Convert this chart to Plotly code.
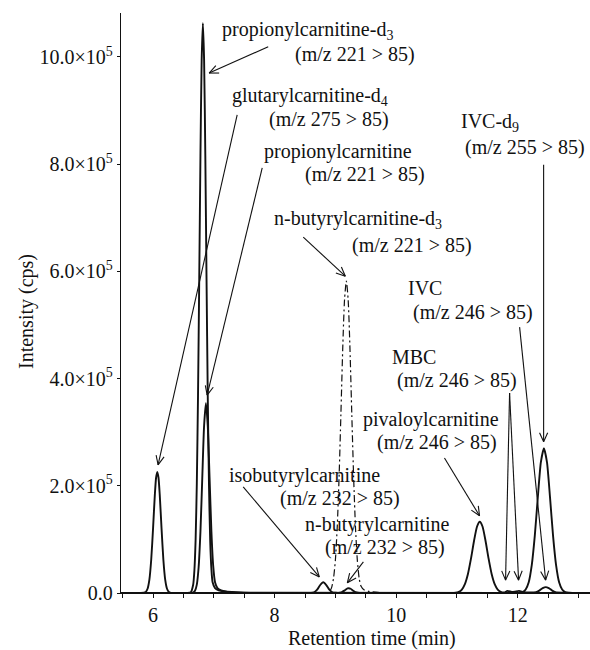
import math
import plotly.graph_objects as go

# ---------------------------------------------------------------------------
# MRM chromatogram traces: retention time (min) and intensity (10^5 cps)
# ---------------------------------------------------------------------------

# glutarylcarnitine-d4 (m/z 275 > 85)
glut_d4_t = [5.47, 5.80, 5.88, 5.91, 5.94, 5.97, 6.00, 6.03, 6.05, 6.07, 6.09, 6.11,
             6.14, 6.17, 6.20, 6.23, 6.26, 6.30, 13.20]
glut_d4_i = [0.0, 0.0, 0.02, 0.08, 0.25, 0.62, 1.20, 1.84, 2.15, 2.26, 2.15, 1.84,
             1.20, 0.62, 0.25, 0.08, 0.02, 0.0, 0.0]

# propionylcarnitine-d3 (m/z 221 > 85)
prop_d3_t = [5.47, 6.50, 6.62, 6.66, 6.68, 6.70, 6.72, 6.74, 6.76, 6.78, 6.80, 6.82,
             6.84, 6.86, 6.88, 6.90, 6.92, 6.94, 6.96, 6.98, 7.02, 7.08, 7.16, 7.30,
             7.60, 13.20]
prop_d3_i = [0.0, 0.0, 0.013, 0.155, 0.415, 0.98, 2.04, 3.69, 5.86, 8.16, 9.95, 10.63,
             9.95, 8.16, 5.86, 3.69, 2.04, 0.98, 0.45, 0.20, 0.09, 0.05, 0.03, 0.015,
             0.005, 0.0]

# propionylcarnitine
prop_t = [5.47, 6.60, 6.66, 6.69, 6.72, 6.75, 6.78, 6.81, 6.84, 6.87, 6.90, 6.93,
          6.96, 6.99, 7.02, 7.06, 7.12, 7.20, 7.35, 7.60, 13.20]
prop_i = [0.0, 0.0, 0.008, 0.04, 0.156, 0.48, 1.15, 2.15, 3.12, 3.54, 3.12, 2.15,
          1.15, 0.50, 0.20, 0.09, 0.05, 0.03, 0.015, 0.0, 0.0]

# isobutyrylcarnitine / n-butyrylcarnitine (m/z 232 > 85)
but_t = [5.47, 8.50, 8.60, 8.65, 8.70, 8.75, 8.80, 8.85, 8.90, 8.95, 9.00, 9.05,
         9.10, 9.15, 9.20, 9.22, 9.25, 9.30, 9.35, 9.40, 9.50, 13.20]
but_i = [0.0, 0.0, 0.002, 0.014, 0.061, 0.149, 0.20, 0.149, 0.061, 0.014, 0.004, 0.002,
         0.012, 0.046, 0.085, 0.09, 0.079, 0.037, 0.009, 0.002, 0.0, 0.0]

# n-butyrylcarnitine-d3 (dash-dot trace)
but_d3_t = [5.47, 8.80, 8.88, 8.91, 8.94, 8.97, 9.00, 9.03, 9.06, 9.09, 9.12, 9.15,
            9.18, 9.21, 9.24, 9.27, 9.30, 9.33, 9.36, 9.39, 9.42, 9.47, 9.55, 9.70,
            13.20]
but_d3_i = [0.0, 0.0, 0.011, 0.037, 0.11, 0.28, 0.62, 1.23, 2.15, 3.32, 4.54, 5.47,
            5.82, 5.47, 4.54, 3.32, 2.15, 1.23, 0.62, 0.28, 0.13, 0.06, 0.03, 0.01,
            0.0]

# pivaloylcarnitine / MBC / IVC (m/z 246 > 85)
c5_t = [5.47, 10.90, 10.98, 11.03, 11.08, 11.13, 11.18, 11.23, 11.28, 11.33, 11.375,
        11.42, 11.47, 11.52, 11.57, 11.62, 11.67, 11.72, 11.78, 11.83, 11.90, 11.95,
        12.02, 12.10, 12.20, 12.30, 12.36, 12.41, 12.46, 12.51, 12.56, 12.62, 12.75,
        13.20]
c5_i = [0.0, 0.0, 0.005, 0.021, 0.065, 0.166, 0.355, 0.64, 0.97, 1.24, 1.33,
        1.24, 0.97, 0.64, 0.355, 0.166, 0.065, 0.021, 0.01, 0.04, 0.02, 0.025,
        0.04, 0.015, 0.01, 0.015, 0.05, 0.09, 0.11, 0.09, 0.05, 0.015, 0.005,
        0.0]

# IVC-d9 (m/z 255 > 85)
ivc_d9_t = [5.47, 12.00, 12.03, 12.08, 12.13, 12.18, 12.23, 12.28, 12.33, 12.38, 12.43,
            12.48, 12.53, 12.58, 12.63, 12.68, 12.73, 12.78, 12.83, 13.20]
ivc_d9_i = [0.0, 0.0, 0.004, 0.017, 0.066, 0.20, 0.52, 1.07, 1.79, 2.44, 2.70,
            2.44, 1.79, 1.07, 0.52, 0.20, 0.066, 0.017, 0.004, 0.0]

# ---------------------------------------------------------------------------
# Peak labels (two lines each) and their pointer arrows
# ---------------------------------------------------------------------------
label_line1 = ["propionylcarnitine-d<sub>3</sub>", "glutarylcarnitine-d<sub>4</sub>",
               "propionylcarnitine", "n-butyrylcarnitine-d<sub>3</sub>",
               "IVC-d<sub>9</sub>", "IVC", "MBC", "pivaloylcarnitine",
               "isobutyrylcarnitine", "n-butyrylcarnitine"]
label_line2 = ["(m/z 221 > 85)", "(m/z 275 > 85)", "(m/z 221 > 85)", "(m/z 221 > 85)",
               "(m/z 255 > 85)", "(m/z 246 > 85)", "(m/z 246 > 85)", "(m/z 246 > 85)",
               "(m/z 232 > 85)", "(m/z 232 > 85)"]
label1_x = [7.104, 7.269, 7.796, 7.961, 11.041, 10.168, 9.905, 9.427, 7.219, 8.471]
label1_y = [10.50, 9.27, 8.23, 6.96, 8.77, 5.69, 4.40, 3.23, 2.20, 1.27]
label2_x = [8.307, 7.878, 8.471, 9.246, 11.107, 10.251, 9.987, 9.658, 8.059, 8.801]
label2_y = [10.04, 8.84, 7.80, 6.49, 8.32, 5.24, 3.97, 2.80, 1.77, 0.84]

arrow_x0 = [7.895, 7.384, 7.796, 8.471, 12.425, 12.030, 11.865, 11.865, 10.794, 7.483, 9.460]
arrow_y0 = [10.19, 8.92, 7.93, 6.64, 7.99, 4.96, 3.73, 3.73, 2.52, 1.98, 0.58]
arrow_x1 = [6.923, 6.083, 6.890, 9.163, 12.425, 12.458, 11.799, 12.013, 11.371, 8.735, 9.196]
arrow_y1 = [9.70, 2.39, 3.69, 5.91, 2.82, 0.24, 0.24, 0.24, 1.44, 0.30, 0.19]

# y-axis tick values (10^5 cps)
y_ticks = [0, 2, 4, 6, 8, 10]
y_ticktext = ["0.0"] + [f"{v:.1f}×10<sup>5</sup>" for v in y_ticks[1:]]
x_ticks = [6, 8, 10, 12]

# ---------------------------------------------------------------------------
W, H = 590, 650
M_L, M_R, M_T, M_B = 121, 0, 13, 57
X_RANGE = [5.473, 13.188]
Y_RANGE = [0, 10.82]
FONT = "Liberation Serif"
INK = "#111111"

fig = go.Figure()

solid = [(glut_d4_t, glut_d4_i), (prop_d3_t, prop_d3_i), (prop_t, prop_i),
         (but_t, but_i), (c5_t, c5_i), (ivc_d9_t, ivc_d9_i)]
for t, i in solid:
    fig.add_trace(go.Scatter(x=t, y=i, mode="lines",
                             line=dict(color=INK, width=1.9, shape="spline", smoothing=0.6),
                             hoverinfo="skip", showlegend=False))

fig.add_trace(go.Scatter(x=but_d3_t, y=but_d3_i, mode="lines",
                         line=dict(color=INK, width=1.2, dash="7px,3px,2px,3px",
                                   shape="spline", smoothing=0.6),
                         hoverinfo="skip", showlegend=False))

# arrows with open V heads, drawn in data space using the axis pixel scale
plot_w = W - M_L - M_R
plot_h = H - M_T - M_B
sx = plot_w / (X_RANGE[1] - X_RANGE[0])
sy = plot_h / (Y_RANGE[1] - Y_RANGE[0])
head_len, head_ang = 10.0, math.radians(24)
ax_pts, ay_pts = [], []
for x0, y0, x1, y1 in zip(arrow_x0, arrow_y0, arrow_x1, arrow_y1):
    dx, dy = (x0 - x1) * sx, (y0 - y1) * sy
    n = math.hypot(dx, dy)
    ux, uy = dx / n, dy / n
    ax_pts += [x0, x1, None]
    ay_pts += [y0, y1, None]
    for s in (1, -1):
        c, sn = math.cos(s * head_ang), math.sin(s * head_ang)
        bx, by = ux * c - uy * sn, ux * sn + uy * c
        ax_pts += [x1 + bx * head_len / sx, x1, None]
        ay_pts += [y1 + by * head_len / sy, y1, None]
fig.add_trace(go.Scatter(x=ax_pts, y=ay_pts, mode="lines",
                         line=dict(color=INK, width=1.1),
                         hoverinfo="skip", showlegend=False))

annotations = []
for t1, t2, x1, y1, x2, y2 in zip(label_line1, label_line2, label1_x, label1_y,
                                  label2_x, label2_y):
    for txt, xx, yy in ((t1, x1, y1), (t2, x2, y2)):
        annotations.append(dict(x=xx, y=yy, xref="x", yref="y", text=txt,
                                showarrow=False, xanchor="left", yanchor="middle",
                                font=dict(family=FONT, size=20, color=INK)))

annotations.append(dict(text="Intensity (cps)", xref="paper", yref="paper",
                        x=(27 - M_L) / plot_w, y=0.4845, textangle=-90,
                        showarrow=False, xanchor="center", yanchor="middle",
                        font=dict(family=FONT, size=20, color=INK)))
annotations.append(dict(text="Retention time (min)", xref="paper", yref="paper",
                        x=(371.5 - M_L) / plot_w, y=-0.078,
                        showarrow=False, xanchor="center", yanchor="middle",
                        font=dict(family=FONT, size=20, color=INK)))

fig.update_layout(
    width=W, height=H, autosize=False,
    margin=dict(l=M_L, r=M_R, t=M_T, b=M_B, pad=0),
    paper_bgcolor="white", plot_bgcolor="white",
    font=dict(family=FONT, size=20, color=INK),
    annotations=annotations,
    showlegend=False,
)
fig.update_xaxes(range=X_RANGE, showline=True, linecolor=INK, linewidth=1.3,
                 showgrid=False, zeroline=False, tickmode="array", tickvals=x_ticks,
                 ticks="outside", ticklen=4, tickwidth=1.2, tickcolor=INK,
                 minor=dict(dtick=0.5, tick0=6, ticks="outside", ticklen=4,
                            tickwidth=1.2, tickcolor=INK, showgrid=False),
                 tickfont=dict(family=FONT, size=20, color=INK))
fig.update_yaxes(range=Y_RANGE, showline=True, linecolor=INK, linewidth=1.3,
                 showgrid=False, zeroline=False, tickmode="array", tickvals=y_ticks,
                 ticktext=y_ticktext, ticks="outside", ticklen=3, tickwidth=1.2,
                 tickcolor=INK, tickfont=dict(family=FONT, size=20, color=INK))

fig.write_html("out.html")
